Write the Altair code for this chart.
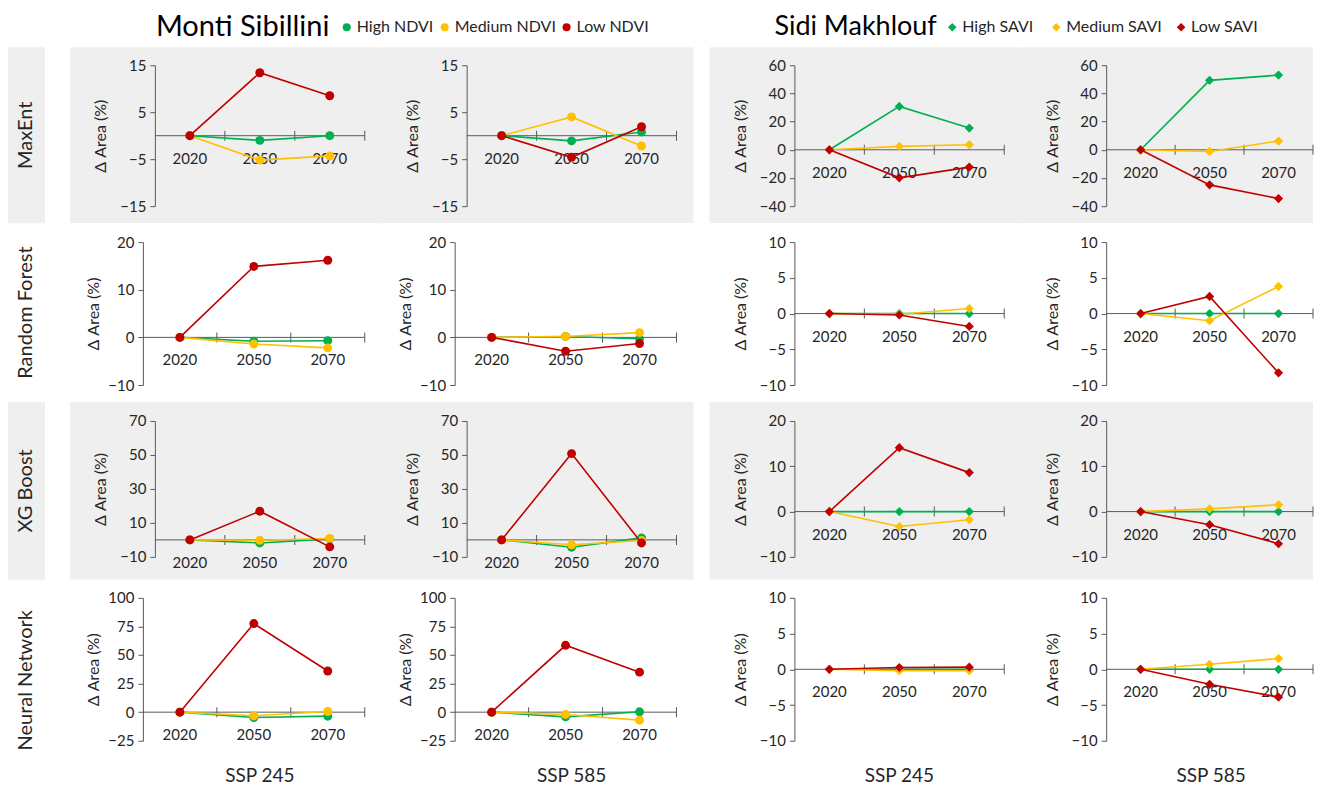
import altair as alt
import pandas as pd

# ---------------- data ----------------
years = ["2020", "2050", "2070"]
models = ["MaxEnt", "Random Forest", "XG Boost", "Neural Network"]
scenarios = ["SSP 245", "SSP 585"]
sites = ["Monti Sibillini", "Sidi Makhlouf"]
ndvi_classes = ["High NDVI", "Medium NDVI", "Low NDVI"]
savi_classes = ["High SAVI", "Medium SAVI", "Low SAVI"]
class_colors = ["#00B050", "#FFC000", "#C00000"]

# Δ Area (%) at [2020, 2050, 2070]; series order: High, Medium, Low
ms_maxent_245 = [[0, -1.0, 0.0], [0, -5.2, -4.3], [0, 13.4, 8.5]]
ms_maxent_585 = [[0, -1.1, 0.8], [0, 4.0, -2.2], [0, -4.6, 1.9]]
ms_rf_245 = [[0, -0.8, -0.7], [0, -1.4, -2.2], [0, 14.9, 16.2]]
ms_rf_585 = [[0, 0.2, -0.3], [0, 0.2, 1.0], [0, -2.9, -1.3]]
ms_xgb_245 = [[0, -1.8, 0.6], [0, -0.2, 0.8], [0, 16.9, -4.1]]
ms_xgb_585 = [[0, -4.3, 1.2], [0, -2.9, -0.4], [0, 50.8, -1.8]]
ms_nn_245 = [[0, -4.7, -3.5], [0, -3.2, 0.6], [0, 77.5, 36.0]]
ms_nn_585 = [[0, -4.1, 0.3], [0, -2.0, -7.0], [0, 58.5, 35.0]]

sm_maxent_245 = [[0, 30.8, 15.4], [0, 2.4, 3.6], [0, -19.9, -12.3]]
sm_maxent_585 = [[0, 49.3, 53.0], [0, -1.2, 6.2], [0, -24.9, -34.6]]
sm_rf_245 = [[0, 0.0, 0.0], [0, -0.1, 0.7], [0, -0.2, -1.8]]
sm_rf_585 = [[0, 0.0, 0.0], [0, -1.0, 3.8], [0, 2.4, -8.3]]
sm_xgb_245 = [[0, 0.0, 0.0], [0, -3.3, -1.8], [0, 14.1, 8.6]]
sm_xgb_585 = [[0, 0.0, 0.0], [0, 0.6, 1.5], [0, -2.9, -7.1]]
sm_nn_245 = [[0, 0.0, 0.0], [0, -0.2, -0.2], [0, 0.25, 0.3]]
sm_nn_585 = [[0, 0.0, 0.0], [0, 0.7, 1.5], [0, -2.1, -3.9]]

ms_ticks = [[15, 5, -5, -15], [20, 10, 0, -10], [70, 50, 30, 10, -10],
            [100, 75, 50, 25, 0, -25]]
sm_ticks = [[60, 40, 20, 0, -20, -40], [10, 5, 0, -5, -10], [20, 10, 0, -10],
            [10, 5, 0, -5, -10]]

ms_panels = [[ms_maxent_245, ms_maxent_585], [ms_rf_245, ms_rf_585],
             [ms_xgb_245, ms_xgb_585], [ms_nn_245, ms_nn_585]]
sm_panels = [[sm_maxent_245, sm_maxent_585], [sm_rf_245, sm_rf_585],
             [sm_xgb_245, sm_xgb_585], [sm_nn_245, sm_nn_585]]

# ---------------- layout / style ----------------
F = "Lato"
TXT = "#262626"
AX = "#595959"
BG = "#EFEFEF"
CELL_W = 312
LABEL_W = 62
GAP = 16
TOTAL_W = 1306
FOOT_X = 190          # footer centre measured from the left edge of a panel cell
# (plot height, band above plot top, band bottom below plot top, grey?)
ROWS = [(141, 18, 158, True), (143, 19, 160, False),
        (136, 19, 159, True), (143, 18, 183, False)]
# Monti Sibillini panels in the Random Forest / Neural Network rows sit wider
WIDE_ROWS = [1, 3]

one = pd.DataFrame({"k": [0]})


def geometry(r, col):
    """left offset of the y axis inside its cell, plot width, right edge of band"""
    if col < 2 and r in WIDE_ROWS:
        left, w = 73, 222
    else:
        left, w = 85, 210
    if col == 3:
        w = 207
        right = TOTAL_W - (LABEL_W + 3 * CELL_W + GAP) - left
    else:
        right = CELL_W - left
    return left, w, right


def panel(series, classes, shape, msize, ticks, r, col, footer=None):
    H, top, bot, grey = ROWS[r]
    left, W, right = geometry(r, col)
    tpad = 6 if (col < 2 and r in WIDE_ROWS) else 11
    xs = alt.Scale(domain=[0, 3], nice=False, zero=False)
    ys = alt.Scale(domain=[min(ticks), max(ticks)], nice=False, zero=False)
    yaxis = alt.Axis(values=ticks, title="Δ Area (%)", titleFont=F, titleFontSize=16,
                     titleFontWeight="normal", titleColor=TXT, titlePadding=tpad,
                     labelFont=F, labelFontSize=15, labelColor=TXT, labelPadding=4,
                     domainColor=AX, tickColor=AX, tickSize=5, grid=False,
                     labelOverlap=False, zindex=1)
    X = alt.X("pos:Q", scale=xs, axis=None)
    Y = alt.Y("v:Q", scale=ys, axis=yaxis)

    layers = [
        alt.Chart(one).mark_rect(fill=BG if grey else "white").encode(
            x=alt.value(-left), x2=alt.value(right),
            y=alt.value(-top), y2=alt.value(bot)),
    ]
    zero_df = pd.DataFrame({"v": [0]})
    layers.append(alt.Chart(zero_df).mark_rule(color=AX, strokeWidth=1).encode(
        x=alt.value(0), x2=alt.value(W), y=Y))
    bnd_df = pd.DataFrame({"pos": [1, 2, 3], "v": [0, 0, 0]})
    layers.append(alt.Chart(bnd_df).mark_tick(orient="vertical", size=10, thickness=1,
                                              color=AX, opacity=1).encode(x=X, y=Y))
    yr_df = pd.DataFrame({"pos": [i + 0.5 for i in range(len(years))],
                          "v": [0] * len(years), "year": years})
    layers.append(alt.Chart(yr_df).mark_text(dy=23, font=F, fontSize=15, color=TXT).encode(
        x=X, y=Y, text="year:N"))
    for cls, vals, c in zip(classes, series, class_colors):
        df = pd.DataFrame({"pos": [i + 0.5 for i in range(len(years))], "v": vals,
                           "cls": [cls] * len(years)})
        layers.append(alt.Chart(df).mark_line(color=c, strokeWidth=1.6).encode(x=X, y=Y))
        layers.append(alt.Chart(df).mark_point(filled=True, shape=shape, size=msize,
                                               color=c, opacity=1).encode(x=X, y=Y))
    if footer:
        layers.append(alt.Chart(one).mark_text(font=F, fontSize=19, color=TXT).encode(
            x=alt.value(FOOT_X - left), y=alt.value(H + 35), text=alt.value(footer)))
    return alt.layer(*layers).properties(width=W, height=H)


def label_cell(name, r):
    H, top, bot, grey = ROWS[r]
    layers = [alt.Chart(one).mark_rect(fill="white", opacity=0).encode(
        x=alt.value(0), x2=alt.value(LABEL_W), y=alt.value(-top), y2=alt.value(bot))]
    if grey:
        layers.append(alt.Chart(one).mark_rect(fill=BG).encode(
            x=alt.value(0), x2=alt.value(37), y=alt.value(-top), y2=alt.value(bot)))
    layers.append(alt.Chart(one).mark_text(angle=270, font=F, fontSize=20, color=TXT).encode(
        x=alt.value(18.5), y=alt.value((bot - top) / 2), text=alt.value(name)))
    return alt.layer(*layers).properties(width=LABEL_W, height=H)


def spacer():
    return alt.Chart(one).mark_rect(opacity=0).encode(
        x=alt.value(0), x2=alt.value(GAP), y=alt.value(0), y2=alt.value(1)
    ).properties(width=GAP, height=1)


# ---------------- header ----------------
hdr = []
hdr.append(alt.Chart(one).mark_text(font=F, fontSize=29, color="#000000", align="left",
                                    baseline="middle").encode(
    x=alt.value(148), y=alt.value(19), text=alt.value(sites[0])))
hdr.append(alt.Chart(one).mark_text(font=F, fontSize=27, color="#000000", align="left",
                                    baseline="middle").encode(
    x=alt.value(767), y=alt.value(19), text=alt.value(sites[1])))
leg1_x = [339, 437, 559]
leg2_x = [945, 1049, 1174]
for cls, c, lx in zip(ndvi_classes, class_colors, leg1_x):
    hdr.append(alt.Chart(one).mark_point(filled=True, shape="circle", size=65, color=c,
                                         opacity=1).encode(x=alt.value(lx), y=alt.value(19)))
    hdr.append(alt.Chart(one).mark_text(font=F, fontSize=16, color=TXT, align="left",
                                        baseline="middle").encode(
        x=alt.value(lx + 10), y=alt.value(19), text=alt.value(cls)))
for cls, c, lx in zip(savi_classes, class_colors, leg2_x):
    hdr.append(alt.Chart(one).mark_point(filled=True, shape="diamond", size=75, color=c,
                                         opacity=1).encode(x=alt.value(lx), y=alt.value(19)))
    hdr.append(alt.Chart(one).mark_text(font=F, fontSize=16, color=TXT, align="left",
                                        baseline="middle").encode(
        x=alt.value(lx + 10), y=alt.value(19), text=alt.value(cls)))
header = alt.layer(*hdr).properties(width=TOTAL_W, height=39)

# ---------------- rows ----------------
rows = []
for r, m in enumerate(models):
    last = r == len(models) - 1
    cells = [label_cell(m, r)]
    for s in range(2):
        cells.append(panel(ms_panels[r][s], ndvi_classes, "circle", 80, ms_ticks[r], r, s,
                           scenarios[s] if last else None))
    cells.append(spacer())
    for s in range(2):
        cells.append(panel(sm_panels[r][s], savi_classes, "diamond", 85, sm_ticks[r], r, s + 2,
                           scenarios[s] if last else None))
    rows.append(alt.hconcat(*cells, spacing=0).resolve_scale(x="independent", y="independent"))

chart = alt.vconcat(header, *rows, spacing=0).configure_view(stroke=None).configure_axis(
    titleFont=F, titleFontSize=16, titleFontWeight="normal", titleColor=TXT,
    labelFont=F, labelFontSize=15, labelColor=TXT
).properties(padding=0, background="white")

chart.save("out.html", embed_options={"renderer": "svg", "actions": False})
